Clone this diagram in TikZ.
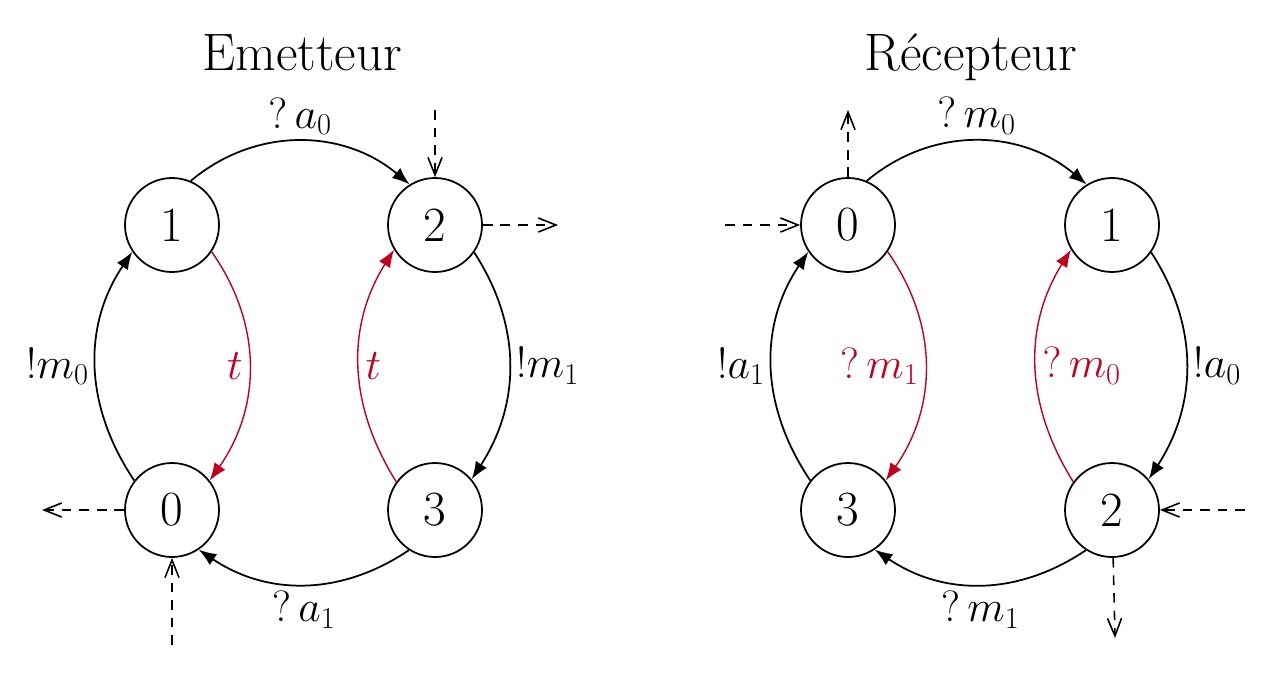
\documentclass[tikz,border=0pt]{standalone}
\usetikzlibrary{arrows.meta}
\definecolor{tred}{RGB}{196,0,30}
\begin{document}
\begin{tikzpicture}[
        etat/.style={circle,draw,line width=1pt,minimum size=1.88cm,inner sep=0pt,
          font=\fontsize{28}{32}\selectfont},
        trans/.style={line width=1pt,-{Latex[length=10pt,width=7.5pt]}},
        tout/.style={trans,draw=tred,line width=0.8pt},
        flux/.style={line width=0.9pt,dash pattern=on 5.5pt off 4.5pt,
          -{Straight Barb[length=10pt,width=8pt]}},
        lbl/.style={font=\fontsize{23.5}{27}\selectfont},
        titre/.style={font=\fontsize{30}{34}\selectfont}]
      \useasboundingbox (0,0) rectangle (25.5,-13.48);
      % Emetteur
      \node[titre,anchor=base] (tE) at (6.04,-1.4) {Emetteur};
      \node[etat] (e1) at (3.44,-4.5) {1};
      \node[etat] (e2) at (8.70,-4.5) {2};
      \node[etat] (e0) at (3.44,-10.2) {0};
      \node[etat] (e3) at (8.70,-10.2) {3};
      \draw[trans] (e1.67) to[out=40,in=140] node[lbl,above] {$?\,a_0$} (e2.122);
      \draw[trans] (e2.-35) to[out=-57,in=57] node[lbl,right] {$!m_1$} (e3.40);
      \draw[trans] (e3.-123) to[out=-146,in=-34] node[lbl,below] {$?\,a_1$} (e0.-56);
      \draw[trans] (e0.142) to[out=124,in=-124] node[lbl,left] {$!m_0$} (e1.214);
      \draw[tout] (e1.-34) to[out=-55,in=55] node[lbl,left,text=tred] {$t$} (e0.38);   % timeout
      \draw[tout] (e3.144) to[out=122,in=-122] node[lbl,right,text=tred] {$t$} (e2.211);
      \coordinate (a2) at (8.70,-2.2);
      \coordinate (b2) at (11.16,-4.5);
      \coordinate (c0) at (0.84,-10.2);
      \coordinate (d0) at (3.44,-12.9);
      \draw[flux] (a2) -- (e2);
      \draw[flux] (e2) -- (b2);
      \draw[flux] (e0) -- (c0);
      \draw[flux] (d0) -- (e0);
      % Recepteur
      \node[titre,anchor=base] (tR) at (19.42,-1.4) {Récepteur};
      \node[etat] (r0) at (16.96,-4.5) {0};
      \node[etat] (r1) at (22.24,-4.5) {1};
      \node[etat] (r3) at (16.96,-10.2) {3};
      \node[etat] (r2) at (22.24,-10.2) {2};
      \draw[trans] (r0.67) to[out=40,in=140] node[lbl,above] {$?\,m_0$} (r1.122);
      \draw[trans] (r1.-35) to[out=-57,in=57] node[lbl,right] {$!a_0$} (r2.40);
      \draw[trans] (r2.-123) to[out=-146,in=-34] node[lbl,below] {$?\,m_1$} (r3.-56);
      \draw[trans] (r3.142) to[out=124,in=-124] node[lbl,left] {$!a_1$} (r0.214);
      \draw[tout] (r0.-34) to[out=-55,in=55] node[lbl,left,text=tred] {$?\,m_1$} (r3.38);
      \draw[tout] (r2.144) to[out=122,in=-122] node[lbl,right,text=tred] {$?\,m_0$} (r1.211);
      \coordinate (f0) at (14.5,-4.5);
      \coordinate (g0) at (16.96,-2.2);
      \coordinate (h2) at (24.9,-10.2);
      \coordinate (k2) at (22.30,-12.76);
      \draw[flux] (f0) -- (r0);
      \draw[flux] (r0) -- (g0);
      \draw[flux] (h2) -- (r2);
      \draw[flux] (r2) -- (k2);
\end{tikzpicture}
\end{document}
